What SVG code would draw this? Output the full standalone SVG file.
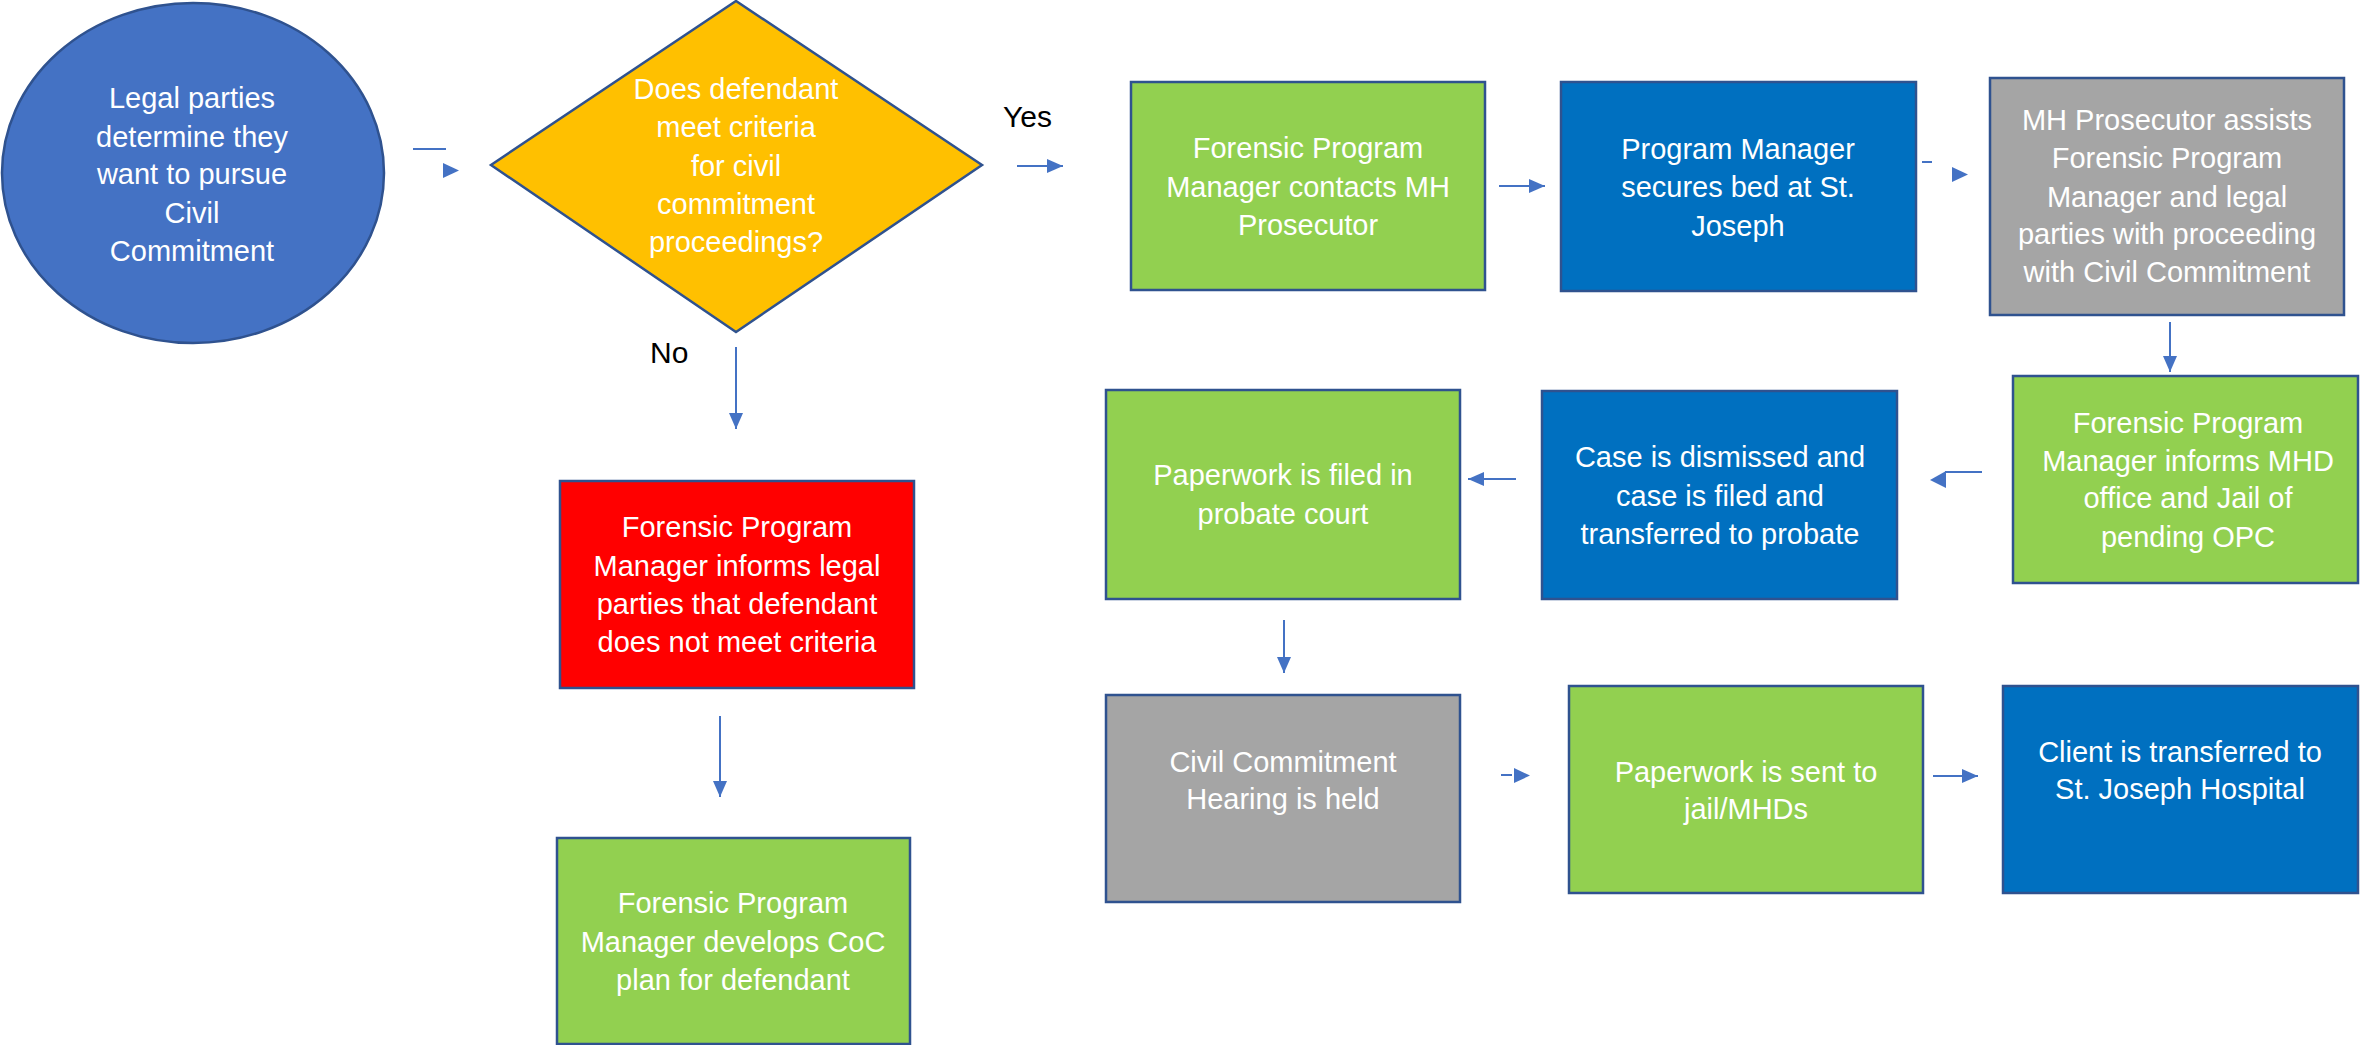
<svg xmlns="http://www.w3.org/2000/svg" width="2361" height="1045" viewBox="0 0 2361 1045">
<style>
.node{stroke:#2F528F;stroke-width:2.5}
.t{font-family:"Liberation Sans",Arial,sans-serif;font-size:29px;fill:#FFFFFF;text-anchor:middle}
.lbl{font-family:"Liberation Sans",Arial,sans-serif;font-size:30px;fill:#000000}
.green{fill:#92D050}
.blue{fill:#0070C0}
.gray{fill:#A5A5A5}
.red{fill:#FF0000}
.conn{stroke:#4472C4;stroke-width:2;fill:none}
.head{fill:#4472C4;stroke:none}
</style>
<defs>
<marker id="arr" viewBox="0 0 16 14" refX="16" refY="7" markerWidth="16" markerHeight="14" markerUnits="userSpaceOnUse" orient="auto">
<path d="M0,0 L16,7 L0,14 z" fill="#4472C4"/>
</marker>
</defs>
<rect width="2361" height="1045" fill="#FFFFFF"/>

<g id="start">
<ellipse class="node" cx="193" cy="173" rx="191" ry="170" fill="#4472C4"/>
<text class="t" x="192" y="108">Legal parties</text>
<text class="t" x="192" y="147">determine they</text>
<text class="t" x="192" y="184">want to pursue</text>
<text class="t" x="192" y="223">Civil</text>
<text class="t" x="192" y="261">Commitment</text>
</g>

<g id="decision">
<polygon class="node" points="736,1 982,165 736,332 491,165" fill="#FFC000"/>
<text class="t" x="736" y="99">Does defendant</text>
<text class="t" x="736" y="137">meet criteria</text>
<text class="t" x="736" y="176">for civil</text>
<text class="t" x="736" y="214">commitment</text>
<text class="t" x="736" y="252">proceedings?</text>
</g>

<g id="label-yes"><text class="lbl" x="1003" y="127">Yes</text></g>
<g id="label-no"><text class="lbl" x="650" y="363">No</text></g>

<g id="contact-prosecutor">
<rect class="node green" x="1131" y="82" width="354" height="208"/>
<text class="t" x="1308" y="158">Forensic Program</text>
<text class="t" x="1308" y="197">Manager contacts MH</text>
<text class="t" x="1308" y="235">Prosecutor</text>
</g>

<g id="secure-bed">
<rect class="node blue" x="1561" y="82" width="355" height="209"/>
<text class="t" x="1738" y="159">Program Manager</text>
<text class="t" x="1738" y="197">secures bed at St.</text>
<text class="t" x="1738" y="236">Joseph</text>
</g>

<g id="prosecutor-assists">
<rect class="node gray" x="1990" y="78" width="354" height="237"/>
<text class="t" x="2167" y="130">MH Prosecutor assists</text>
<text class="t" x="2167" y="168">Forensic Program</text>
<text class="t" x="2167" y="207">Manager and legal</text>
<text class="t" x="2167" y="244">parties with proceeding</text>
<text class="t" x="2167" y="282">with Civil Commitment</text>
</g>

<g id="inform-mhd">
<rect class="node green" x="2013" y="376" width="345" height="207"/>
<text class="t" x="2188" y="433">Forensic Program</text>
<text class="t" x="2188" y="471">Manager informs MHD</text>
<text class="t" x="2188" y="508">office and Jail of</text>
<text class="t" x="2188" y="547">pending OPC</text>
</g>

<g id="case-dismissed">
<rect class="node blue" x="1542" y="391" width="355" height="208"/>
<text class="t" x="1720" y="467">Case is dismissed and</text>
<text class="t" x="1720" y="506">case is filed and</text>
<text class="t" x="1720" y="544">transferred to probate</text>
</g>

<g id="filed-probate">
<rect class="node green" x="1106" y="390" width="354" height="209"/>
<text class="t" x="1283" y="485">Paperwork is filed in</text>
<text class="t" x="1283" y="524">probate court</text>
</g>

<g id="hearing">
<rect class="node gray" x="1106" y="695" width="354" height="207"/>
<text class="t" x="1283" y="772">Civil Commitment</text>
<text class="t" x="1283" y="809">Hearing is held</text>
</g>

<g id="sent-jail">
<rect class="node green" x="1569" y="686" width="354" height="207"/>
<text class="t" x="1746" y="782">Paperwork is sent to</text>
<text class="t" x="1746" y="819">jail/MHDs</text>
</g>

<g id="transferred">
<rect class="node blue" x="2003" y="686" width="355" height="207"/>
<text class="t" x="2180" y="762">Client is transferred to</text>
<text class="t" x="2180" y="799">St. Joseph Hospital</text>
</g>

<g id="not-meet">
<rect class="node red" x="560" y="481" width="354" height="207"/>
<text class="t" x="737" y="537">Forensic Program</text>
<text class="t" x="737" y="576">Manager informs legal</text>
<text class="t" x="737" y="614">parties that defendant</text>
<text class="t" x="737" y="652">does not meet criteria</text>
</g>

<g id="coc-plan">
<rect class="node green" x="557" y="838" width="353" height="206"/>
<text class="t" x="733" y="913">Forensic Program</text>
<text class="t" x="733" y="952">Manager develops CoC</text>
<text class="t" x="733" y="990">plan for defendant</text>
</g>

<g id="connectors">
<line class="conn" x1="413" y1="149" x2="446" y2="149"/>
<polygon class="head" points="443,163 459,170.5 443,178"/>
<line class="conn" x1="1017" y1="166" x2="1063" y2="166" marker-end="url(#arr)"/>
<line class="conn" x1="736" y1="347" x2="736" y2="429" marker-end="url(#arr)"/>
<line class="conn" x1="1499" y1="186" x2="1545" y2="186" marker-end="url(#arr)"/>
<line class="conn" x1="1922" y1="162" x2="1932" y2="162"/>
<polygon class="head" points="1952,167 1968,174.5 1952,182"/>
<line class="conn" x1="2170" y1="322" x2="2170" y2="372" marker-end="url(#arr)"/>
<line class="conn" x1="1982" y1="472" x2="1945" y2="472"/>
<polygon class="head" points="1946,471 1946,488 1930,480"/>
<line class="conn" x1="1516" y1="479" x2="1468" y2="479" marker-end="url(#arr)"/>
<line class="conn" x1="1284" y1="620" x2="1284" y2="673" marker-end="url(#arr)"/>
<line class="conn" x1="1501" y1="775" x2="1512" y2="775"/>
<polygon class="head" points="1514,768 1530,775.5 1514,783"/>
<line class="conn" x1="1933" y1="776" x2="1978" y2="776" marker-end="url(#arr)"/>
<line class="conn" x1="720" y1="716" x2="720" y2="797" marker-end="url(#arr)"/>
</g>
</svg>
